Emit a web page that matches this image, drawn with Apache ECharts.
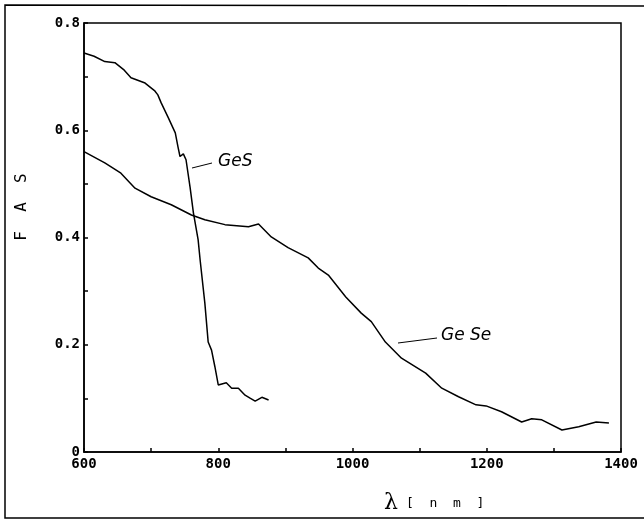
<!DOCTYPE html>
<html>
<head>
<meta charset="utf-8">
<script src="https://cdn.jsdelivr.net/npm/echarts@6/dist/echarts.min.js"></script>
<style>
  html, body { margin: 0; padding: 0; background: #fff; }
  #chart { width: 644px; height: 522px; }
</style>
</head>
<body>
<div id="chart"></div>
<script>
// GeS curve (wavelength nm, FAS)
var gesX = [600, 615, 631, 646, 660, 670, 691, 705, 710, 715, 725, 736, 740, 743, 748, 752, 758, 763, 770, 773, 780, 785, 790, 795, 800, 812, 820, 830, 840, 848, 855, 865, 875]
var gesY = [0.744, 0.738, 0.728, 0.726, 0.712, 0.698, 0.688, 0.674, 0.666, 0.651, 0.625, 0.595, 0.569, 0.551, 0.556, 0.545, 0.494, 0.446, 0.396, 0.358, 0.278, 0.205, 0.190, 0.159, 0.125, 0.129, 0.119, 0.119, 0.106, 0.100, 0.095, 0.102, 0.097]
// GeSe curve
var geseX = [600, 631, 655, 676, 700, 730, 760, 780, 810, 845, 860, 879, 904, 934, 949, 964, 990, 1013, 1028, 1049, 1073, 1109, 1133, 1158, 1184, 1199, 1222, 1252, 1267, 1282, 1312, 1337, 1363, 1382]
var geseY = [0.560, 0.539, 0.520, 0.492, 0.476, 0.461, 0.442, 0.433, 0.424, 0.420, 0.425, 0.401, 0.381, 0.362, 0.343, 0.330, 0.289, 0.259, 0.243, 0.205, 0.175, 0.147, 0.119, 0.103, 0.088, 0.086, 0.075, 0.056, 0.062, 0.060, 0.041, 0.047, 0.056, 0.054]
var xLabels = ['600', '800', '1000', '1200', '1400']
var yLabels = ['0', '0.2', '0.4', '0.6', '0.8']

function pairs(xs, ys) {
    var out = []
    for (var i = 0; i < xs.length; i++) out.push([xs[i], ys[i]])
    return out
}

var labelFont = '"DejaVu Sans Mono", monospace'
var myChart = echarts.init(document.getElementById('chart'))
var option = {
    backgroundColor: '#fff',
    animation: false,
    grid: {
        left: 84, right: 23, top: 23, bottom: 70,
        show: true, borderColor: '#000', borderWidth: 1.5
    },
    xAxis: {
        type: 'value', min: 600, max: 1400, interval: 100,
        axisLine: { lineStyle: { color: '#000', width: 1.5 } },
        axisTick: { inside: true, length: 4, lineStyle: { color: '#000', width: 1.5 } },
        splitLine: { show: false },
        axisLabel: {
            color: '#000', fontFamily: labelFont, fontSize: 14, fontWeight: 'bold', margin: 5,
            formatter: function (v) {
                var s = String(v)
                return xLabels.indexOf(s) >= 0 ? s : ''
            }
        }
    },
    yAxis: {
        type: 'value', min: 0, max: 0.8, interval: 0.1,
        axisLine: { lineStyle: { color: '#000', width: 1.5 } },
        axisTick: { inside: true, length: 4, lineStyle: { color: '#000', width: 1.5 } },
        splitLine: { show: false },
        axisLabel: {
            color: '#000', fontFamily: labelFont, fontSize: 14, fontWeight: 'bold', margin: 4,
            formatter: function (v) {
                var s = String(Math.round(v * 10) / 10)
                return yLabels.indexOf(s) >= 0 ? s : ''
            }
        }
    },
    series: [
        {
            name: 'GeS', type: 'line', showSymbol: false,
            lineStyle: { color: '#000', width: 1.5 },
            data: pairs(gesX, gesY)
        },
        {
            name: 'GeSe', type: 'line', showSymbol: false,
            lineStyle: { color: '#000', width: 1.5 },
            data: pairs(geseX, geseY)
        }
    ],
    graphic: [
        // scanned outer frame
        { type: 'polyline', shape: { points: [[644, 6], [5, 5], [5, 518], [644, 518]] }, style: { stroke: '#000', lineWidth: 1.5, fill: null } },
        // series labels and leader lines
        { type: 'line', shape: { x1: 192, y1: 168, x2: 212, y2: 163 }, style: { stroke: '#000', lineWidth: 1 } },
        { type: 'text', left: 218, top: 153, style: { text: 'GeS', font: 'italic 17px "DejaVu Sans"', fill: '#000' } },
        { type: 'line', shape: { x1: 398, y1: 343, x2: 437, y2: 338 }, style: { stroke: '#000', lineWidth: 1 } },
        { type: 'text', left: 441, top: 327, style: { text: 'Ge Se', font: 'italic 17px "DejaVu Sans"', fill: '#000' } },
        // axis names
        { type: 'text', x: 22, y: 207, rotation: Math.PI / 2, style: { text: 'F  A  S', font: '16px ' + labelFont, fill: '#000', textAlign: 'center', textVerticalAlign: 'middle' } },
        { type: 'text', left: 384, top: 492, style: { text: 'λ', font: '22px "DejaVu Serif"', fill: '#000' } },
        { type: 'text', left: 406, top: 497, style: { text: '[  n  m  ]', font: '13px ' + labelFont, fill: '#000' } }
    ]
}
myChart.setOption(option, true)
</script>
</body>
</html>
